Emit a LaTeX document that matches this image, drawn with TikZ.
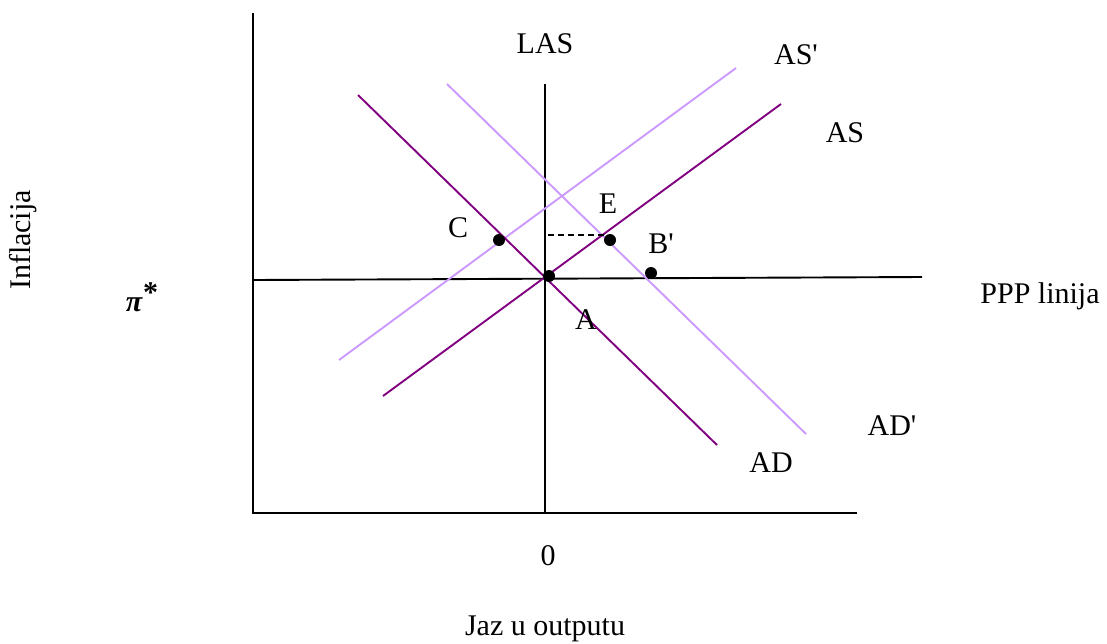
\documentclass[tikz,border=0pt]{standalone}
\usepackage{fontspec}
\setmainfont{Liberation Serif}[Ligatures=TeXOff]
\begin{document}
\begin{tikzpicture}[x=1pt,y=-1pt,
  lbl/.style={inner sep=0pt,font=\fontsize{30}{35}\selectfont},
  axis/.style={line width=1.9pt,black},
  dark/.style={line width=1.9pt,draw={rgb,255:red,128;green,0;blue,128}},
  light/.style={line width=1.9pt,draw={rgb,255:red,204;green,153;blue,255}},
  dot/.style={circle,fill=black,inner sep=0pt,minimum size=12pt}]
\useasboundingbox (0,0) rectangle (1107,643);
% axes
\coordinate (ytop) at (253,13);
\coordinate (orig) at (253,513);
\coordinate (xend) at (857,513);
\draw[axis] (ytop) -- (orig) -- (xend);
\coordinate (lastop) at (545,84);
\coordinate (lasbot) at (545,513);
\draw[axis] (lastop) -- (lasbot);
\coordinate (pppl) at (253,280);
\coordinate (pppr) at (922,277);
\draw[axis] (pppl) -- (pppr);
% curves
\coordinate (ad1) at (358,95);  \coordinate (ad2) at (717,445);
\coordinate (adp1) at (447,84); \coordinate (adp2) at (806,434);
\coordinate (as1) at (383,396); \coordinate (as2) at (781,104);
\coordinate (asp1) at (339,360); \coordinate (asp2) at (736,68);
\draw[light] (adp1) -- (adp2);
\draw[light] (asp1) -- (asp2);
\draw[dark] (ad1) -- (ad2);
\draw[dark] (as1) -- (as2);
% dashed
\coordinate (d1) at (548,235);
\coordinate (d2) at (604,235);
\draw[line width=1.2pt,dash pattern=on 6pt off 4pt] (d1) -- (d2);
% dots
\node[dot] (pC) at (499,240) {};
\node[dot] (pE) at (610,240) {};
\node[dot] (pB) at (651,273) {};
\node[dot] (pA) at (549,276) {};
% labels
\node[lbl] (tLAS) at (545,44) {LAS};
\node[lbl] (tASp) at (796,55) {AS'};
\node[lbl] (tAS) at (845,133) {AS};
\node[lbl] (tE) at (608,204) {E};
\node[lbl] (tC) at (458,228) {C};
\node[lbl] (tB) at (661,244) {B'};
\node[lbl] (tA) at (586,320) {A};
\node[lbl] (tAD) at (771,463) {AD};
\node[lbl] (tADp) at (892,426) {AD'};
\node[lbl] (tPPP) at (1040,296) {PPP linija};
\node[lbl] (tpi) at (142,297) {\textbf{\textit{π}\raisebox{0.3em}{*}}};
\node[lbl,rotate=90] (tInf) at (23,240) {Inflacija};
\node[lbl] (t0) at (548,556) {0};
\node[lbl] (tJaz) at (545,629) {Jaz u outputu};
\end{tikzpicture}
\end{document}
